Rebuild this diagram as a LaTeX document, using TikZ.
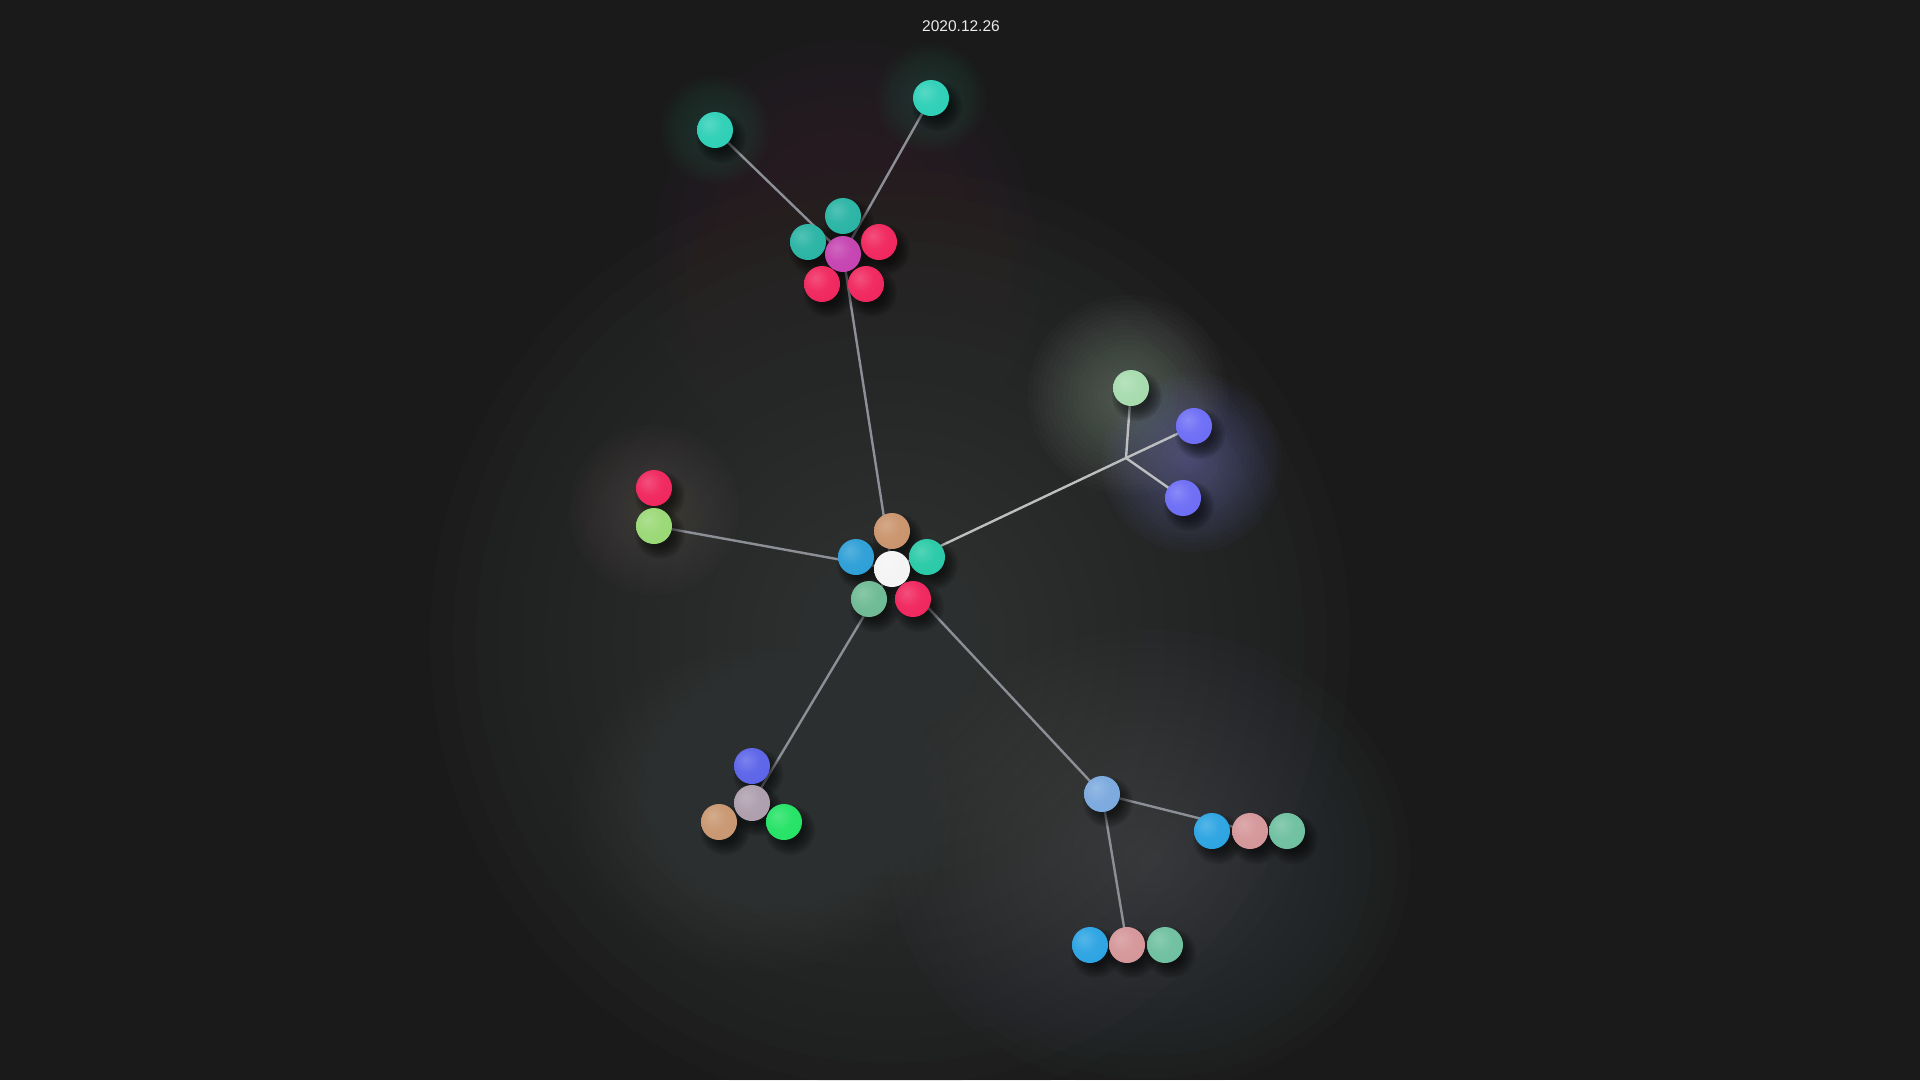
\documentclass[tikz,border=0pt]{standalone}
\usepackage{fontspec}
\setmainfont{Liberation Sans}
\usetikzlibrary{calc}
\pgfdeclarelayer{glow}
\pgfdeclarelayer{edges}
\pgfdeclarelayer{shadows}
\pgfsetlayers{glow,edges,shadows,main}

\definecolor{bgc}{HTML}{1A1A1A}
\definecolor{linkc}{HTML}{8C9096}
\definecolor{linkl}{HTML}{BCBEC0}
\definecolor{tealA}{HTML}{2CCFB6}
\definecolor{tealB}{HTML}{27B3A3}
\definecolor{magc}{HTML}{C441B0}
\definecolor{redc}{HTML}{F0245C}
\definecolor{brownc}{HTML}{C9936B}
\definecolor{bluec}{HTML}{2B9ED6}
\definecolor{tealC}{HTML}{27C9A6}
\definecolor{whitec}{HTML}{F4F4F4}
\definecolor{greenc}{HTML}{6CBA93}
\definecolor{limec}{HTML}{99D874}
\definecolor{mintc}{HTML}{A6DBAD}
\definecolor{violc}{HTML}{6C6CF6}
\definecolor{indc}{HTML}{5A62E8}
\definecolor{mauvec}{HTML}{AD9DAD}
\definecolor{tanc}{HTML}{C8966F}
\definecolor{neonc}{HTML}{22E264}
\definecolor{skyc}{HTML}{7AA8DE}
\definecolor{azurec}{HTML}{2AA3E2}
\definecolor{rosec}{HTML}{D49598}
\definecolor{seac}{HTML}{6DBF9F}
\definecolor{glowgrey}{HTML}{3A3D3E}
\definecolor{glowpink}{HTML}{3E3238}
\definecolor{glowsteel}{HTML}{545A60}
\definecolor{glowstone}{HTML}{4A4E4F}
\definecolor{glowmid}{HTML}{555858}
\definecolor{glowmint}{HTML}{C8DCC8}
\definecolor{glowviol}{HTML}{8888E0}
\definecolor{glowtan}{HTML}{6A5A50}
\definecolor{glowteal}{HTML}{3A8A80}

\colorlet{ballc}{white}
\pgfdeclareradialshading[ballc]{softball}{\pgfpoint{-9bp}{9bp}}{color(0bp)=(ballc!80!white); color(18bp)=(ballc!96!white); color(40bp)=(ballc); color(60bp)=(ballc!86!black); color(100bp)=(ballc!86!black)}

\newcommand\glowat[6]{%
  \foreach \k in {1,...,20}{\fill[#5, fill opacity=#6] (#1,#2) ellipse [x radius={#3*\k/20}, y radius={#4*\k/20}];}}

\tikzset{
  ballnode/.style={circle, minimum size=36pt, inner sep=0pt, /utils/exec={\colorlet{ballc}{#1}}, shade, shading=softball},
  link/.style={draw=linkc, line width=2.4pt},
  shadowring/.style={fill=black, fill opacity=0.1},
}

\begin{document}
\begin{tikzpicture}[x=1pt,y=-1pt]
\useasboundingbox (0,0) rectangle (1920,1080);

% balls
\node[ballnode=tealA] (tl) at (715,130) {};
\node[ballnode=tealA] (tr) at (931,98) {};
\node[ballnode=tealB] (pt) at (843,216) {};
\node[ballnode=tealB] (pl) at (808,242) {};
\node[ballnode=magc] (pm) at (843,254) {};
\node[ballnode=redc] (pr) at (879,242) {};
\node[ballnode=redc] (pbl) at (822,284) {};
\node[ballnode=redc] (pbr) at (866,284) {};

\node[ballnode=brownc] (cb) at (892,531) {};
\node[ballnode=bluec] (cbl) at (856,557) {};
\node[ballnode=tealC] (ct) at (927,557) {};
\node[ballnode=whitec] (cw) at (892,569) {};
\node[ballnode=greenc] (cg) at (869,599) {};
\node[ballnode=redc] (cr) at (913,599) {};

\node[ballnode=redc] (lr) at (654,488) {};
\node[ballnode=limec] (lg) at (654,526) {};

\node[ballnode=mintc] (rg) at (1131,388) {};
\node[ballnode=violc] (rb1) at (1194,426) {};
\node[ballnode=violc] (rb2) at (1183,498) {};
\coordinate (jn) at (1126,458);

\node[ballnode=indc] (bb) at (752,766) {};
\node[ballnode=mauvec] (bm) at (752,803) {};
\node[ballnode=tanc] (bbr) at (719,822) {};
\node[ballnode=neonc] (bgr) at (784,822) {};

\node[ballnode=skyc] (hub) at (1102,794) {};
\node[ballnode=azurec] (ra) at (1212,831) {};
\node[ballnode=rosec] (rp) at (1250,831) {};
\node[ballnode=seac] (rs) at (1287,831) {};
\node[ballnode=azurec] (la) at (1090,945) {};
\node[ballnode=rosec] (lp) at (1127,945) {};
\node[ballnode=seac] (ls) at (1165,945) {};

\node[text=white!92!black, inner sep=0pt] (title) at (961,26) {\fontsize{15.5}{18}\selectfont 2020.12.26};

% soft shadows
\begin{pgfonlayer}{shadows}
\foreach \n in {tl,tr,pt,pl,pm,pr,pbl,pbr,cb,cbl,ct,cw,cg,cr,lr,lg,rg,rb1,rb2,bb,bm,bbr,bgr,hub,ra,rp,rs,la,lp,ls}
  \foreach \r in {13,15,17,19,21,23,25}
    \fill[shadowring] ([xshift=6pt,yshift=-8pt]\n.center) circle (\r);
\end{pgfonlayer}

% connectors
\begin{pgfonlayer}{edges}
\draw[link] (cw.center) -- (pm.center);
\draw[link] (pm.center) -- (tl.center);
\draw[link] (pm.center) -- (tr.center);
\draw[link] (cw.center) -- (lg.center);
\draw[link, draw=linkl] (cw.center) -- (jn) -- (rg.center);
\draw[link, draw=linkl] (jn) -- (rb1.center);
\draw[link, draw=linkl] (jn) -- (rb2.center);
\draw[link] (cw.center) -- (bm.center);
\draw[link] (cw.center) -- (hub.center);
\draw[link] (hub.center) -- (rp.center);
\draw[link] (hub.center) -- (lp.center);
\end{pgfonlayer}

% background glows
\begin{pgfonlayer}{glow}
\fill[bgc] (0,0) rectangle (1920,1080);
\glowat{890}{640}{460}{470}{glowgrey}{0.07}
\glowat{845}{250}{200}{220}{glowpink}{0.04}
\glowat{1150}{860}{260}{230}{glowsteel}{0.035}
\glowat{760}{810}{190}{160}{glowstone}{0.03}
\glowat{892}{565}{170}{170}{glowmid}{0.02}
\glowat{715}{130}{55}{55}{glowteal}{0.02}
\glowat{931}{98}{55}{55}{glowteal}{0.02}
\glowat{1128}{395}{100}{100}{glowmint}{0.02}
\glowat{1192}{462}{90}{90}{glowviol}{0.026}
\glowat{654}{510}{85}{85}{glowtan}{0.03}
\end{pgfonlayer}
\end{tikzpicture}
\end{document}
